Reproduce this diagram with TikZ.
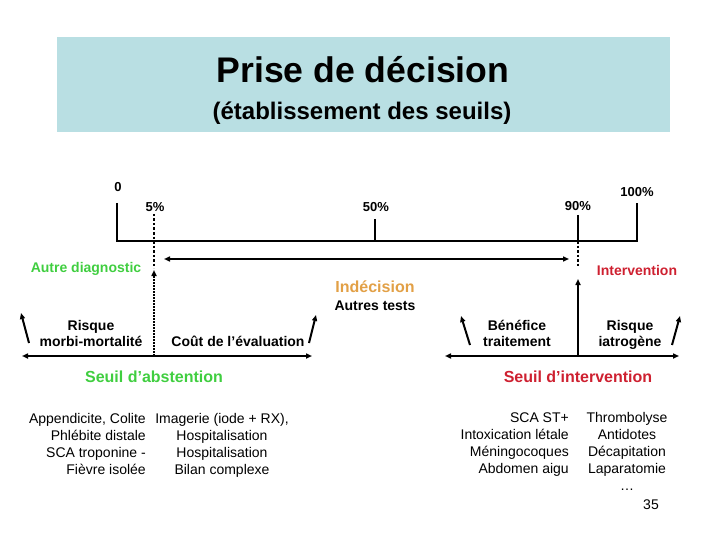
\documentclass[tikz,border=0pt]{standalone}
\usepackage{fontspec}
\setmainfont{Liberation Sans}
\usepackage{xcolor}
\usetikzlibrary{arrows.meta}
\definecolor{titlec}{RGB}{185,223,227}
\definecolor{abstc}{RGB}{64,206,64}
\definecolor{interc}{RGB}{206,32,48}
\definecolor{indc}{RGB}{226,160,70}
\newcommand{\fsz}[2]{\fontsize{#1}{#2}\selectfont}

\begin{document}
\begin{tikzpicture}[x=1pt,y=-1pt,>={Triangle[length=6pt,width=5pt]},
  lab/.style={font=\fsz{14}{16}\bfseries,inner sep=0pt,align=center},
  seuil/.style={font=\fsz{16}{18}\bfseries,inner sep=0pt},
  lst/.style={font=\fsz{14}{17}\selectfont,inner sep=0pt},
  axe/.style={line width=2.5pt},
  flech/.style={->,line width=2pt}]
\useasboundingbox (0,0) rectangle (720,540);
% titre
\fill[titlec] (57,37) rectangle (670,132);
\node[font=\fsz{35.6}{40}\bfseries,inner sep=0pt] (titre) at (363,70) {Prise de décision};
\node[font=\fsz{24}{28}\bfseries,inner sep=0pt] (soustitre) at (362,113) {(établissement des seuils)};
% echelle
\coordinate (o0) at (117,203); \coordinate (a0) at (117,241);
\coordinate (o100) at (637,203); \coordinate (a100) at (637,241);
\draw[axe] (o0)--(a0)--(a100)--(o100);
\coordinate (t50) at (375,219); \coordinate (a50) at (375,241);
\draw[axe] (t50)--(a50);
\coordinate (t90) at (578,215); \coordinate (a90) at (578,241); \coordinate (d90) at (578,266);
\draw[axe] (t90)--(a90);
\draw[line width=2.5pt,dotted] (a90)--(d90);
\coordinate (t5) at (154,214); \coordinate (d5) at (154,268);
\draw[line width=2.5pt,dotted] (t5)--(d5);
\foreach \xp/\yp/\lab [count=\i] in {118/187/0,155/207/5\%,376/207/50\%,578/206/90\%,637/192/100\%}
  \node[font=\fsz{13}{15}\bfseries,inner sep=0pt] (pc\i) at (\xp,\yp) {\lab};
% zone d'indecision
\coordinate (il) at (164,259); \coordinate (ir) at (569,259);
\draw[<->,line width=2pt] (il)--(ir);
\node[lab,abstc] (autre) at (86,269) {Autre diagnostic};
\node[lab,interc] (interv) at (637,270) {Intervention};
\node[seuil,indc] (indec) at (375,287) {Indécision};
\node[lab] (tests) at (375,306) {Autres tests};
% seuil d'abstention
\coordinate (sal) at (22,356); \coordinate (sar) at (312,356);
\coordinate (sa0) at (154,356); \coordinate (sa1) at (154,270);
\draw[<->,line width=2pt] (sal)--(sar);
\draw[->,line width=2pt,densely dotted] (sa0)--(sa1);
\coordinate (m0) at (29,343); \coordinate (m1) at (21,313);
\coordinate (c0) at (309,343); \coordinate (c1) at (316,315);
\draw[flech] (m0)--(m1);
\draw[flech] (c0)--(c1);
\node[lab,anchor=base] (morbi) at (91,346) {Risque\\morbi-mortalité};
\node[lab,anchor=base] (cout) at (238,346) {Coût de l’évaluation};
\node[seuil,abstc] (sabst) at (154,377) {Seuil d’abstention};
% seuil d'intervention
\coordinate (sil) at (445,356); \coordinate (sir) at (679,356);
\coordinate (si0) at (578,356); \coordinate (si1) at (578,279);
\draw[<->,line width=2pt] (sil)--(sir);
\draw[flech] (si0)--(si1);
\coordinate (b0) at (470,345); \coordinate (b1) at (461,316);
\coordinate (r0) at (672,345); \coordinate (r1) at (680,316);
\draw[flech] (b0)--(b1);
\draw[flech] (r0)--(r1);
\node[lab,anchor=base] (benef) at (517,346) {Bénéfice\\traitement};
\node[lab,anchor=base] (iatro) at (630,346) {Risque\\iatrogène};
\node[seuil,interc] (sinter) at (578,377) {Seuil d’intervention};
% listes
\foreach \lab [count=\i] in {{Appendicite, Colite},Phlébite distale,SCA troponine -,Fièvre isolée}
  \node[lst,anchor=base east] (diag\i) at (146,423+17.2*\i-17.2) {\lab};
\foreach \lab [count=\i] in {{Imagerie (iode + RX),},Hospitalisation,Hospitalisation,Bilan complexe}
  \node[lst,anchor=base] (eval\i) at (222,423+17.2*\i-17.2) {\lab};
\foreach \lab [count=\i] in {SCA ST+,Intoxication létale,Méningocoques,Abdomen aigu}
  \node[lst,anchor=base east] (urg\i) at (569,422+17.2*\i-17.2) {\lab};
\foreach \lab [count=\i] in {Thrombolyse,Antidotes,Décapitation,Laparatomie}
  \node[lst,anchor=base] (trt\i) at (627,422+17.2*\i-17.2) {\lab};
\node[lst,anchor=base] (trt5) at (627,490.8) {\ldots};
\node[lst,anchor=base] (page) at (651,509) {35};
\end{tikzpicture}
\end{document}
